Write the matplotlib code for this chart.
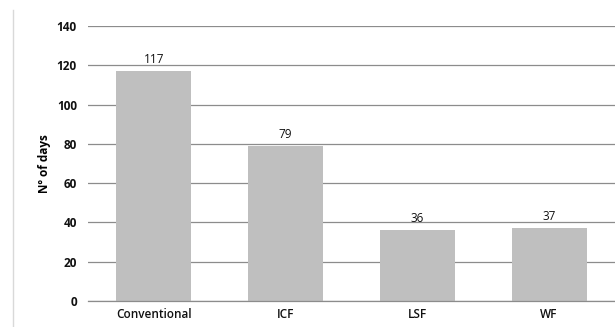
import matplotlib.pyplot as plt
import numpy as np
from matplotlib.lines import Line2D

categories = ['Conventional', 'ICF', 'LSF', 'WF']
days = [117, 79, 36, 37]
yticks = [0, 20, 40, 60, 80, 100, 120, 140]

plt.rcParams['font.family'] = ['Open Sans', 'DejaVu Sans']

fig = plt.figure(figsize=(6.15, 3.27), dpi=100)
ax = fig.add_axes([0.143, 0.0795, 0.857, 0.841])

x = np.arange(len(categories))
ax.bar(x, days, width=0.57, color='#bfbfbf', zorder=2)
for xi, v in zip(x, days):
    ax.text(xi, v + 2.5, str(v), ha='center', va='bottom', fontsize=8.5, color='#111111')

ax.set_xlim(-0.5, len(categories) - 0.5)
ax.set_ylim(0, 140)
ax.set_yticks(yticks)
ax.set_xticks(x)
ax.set_xticklabels(categories, fontsize=8.5, fontweight='semibold', color='#111111')
ax.set_yticklabels([str(t) for t in yticks], fontsize=8.5, fontweight='bold', color='#111111')
ax.tick_params(axis='y', length=0, pad=8)
ax.tick_params(axis='x', length=0, pad=5)
ax.grid(axis='y', color='#8c8c8c', linewidth=0.9, zorder=1)
for s in ['top', 'right', 'left']:
    ax.spines[s].set_visible(False)
ax.spines['bottom'].set_color('#8c8c8c')
ax.spines['bottom'].set_linewidth(0.9)
ax.set_ylabel('Nº of days', fontsize=8.5, fontweight='bold', labelpad=4)

fig.add_artist(Line2D([13 / 615, 13 / 615], [0, 1 - 10 / 327], color='#d9d9d9', linewidth=1))

fig.savefig('out.png', dpi=100)
